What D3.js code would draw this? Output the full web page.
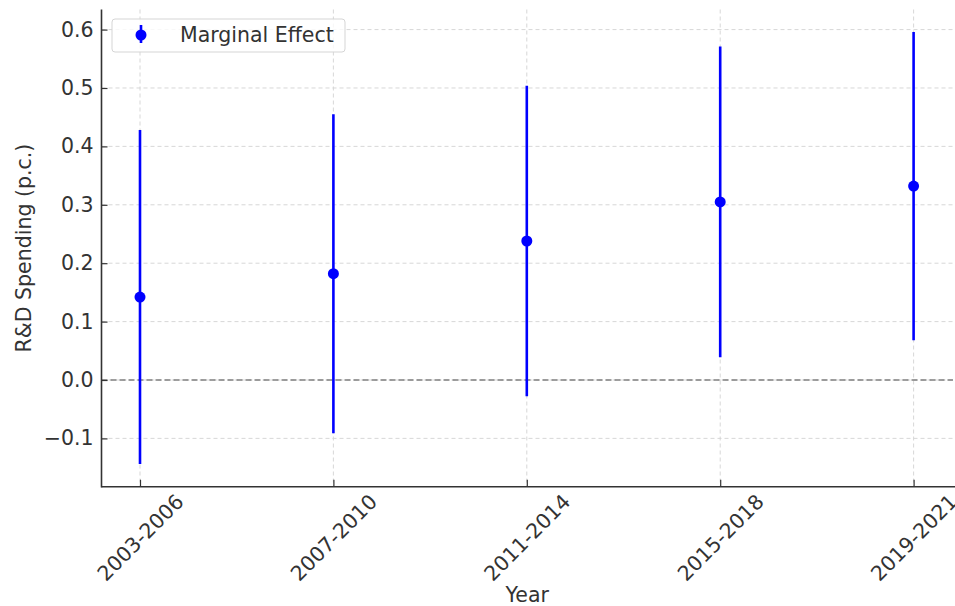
<!DOCTYPE html>
<html>
<head>
<meta charset="utf-8">
<script src="https://cdn.jsdelivr.net/npm/d3@7"></script>
<style>
  html, body { margin: 0; padding: 0; background: #fff; }
  svg { display: block; font-family: "DejaVu Sans", sans-serif; }
</style>
</head>
<body>
<svg id="chart" width="955" height="606"></svg>
<script>
// ---- data ----
const categories = ["2003-2006", "2007-2010", "2011-2014", "2015-2018", "2019-2021"];
const effects = [0.142, 0.182, 0.238, 0.305, 0.332];
const errors = [0.286, 0.273, 0.266, 0.266, 0.264];
const yTicks = [-0.1, 0.0, 0.1, 0.2, 0.3, 0.4, 0.5, 0.6];
const seriesName = "Marginal Effect";

(function () {
// ---- layout ----
const svg = d3.select("#chart");
const mLeft = 101.5, mRight = 953, mTop = 9.5, mBottom = 486.7;
const x = d3.scalePoint().domain(categories).range([140, 913.6]);
const y = d3.scaleLinear().domain([-0.1827, 0.6344]).range([mBottom, mTop]);
const textColor = "#333";
const fs = 20.5;

// grid
const grid = svg.append("g");
grid.selectAll("line.h").data(yTicks).join("line").attr("class", "h")
  .attr("x1", mLeft).attr("x2", mRight)
  .attr("y1", d => y(d)).attr("y2", d => y(d))
  .attr("stroke", "#d3d3d3").attr("stroke-width", 0.9)
  .attr("stroke-dasharray", "4,3");
grid.selectAll("line.v").data(categories).join("line").attr("class", "v")
  .attr("x1", d => x(d)).attr("x2", d => x(d))
  .attr("y1", mTop).attr("y2", mBottom)
  .attr("stroke", "#d3d3d3").attr("stroke-width", 0.9)
  .attr("stroke-dasharray", "4,3");

// zero line
svg.append("line")
  .attr("x1", mLeft).attr("x2", mRight)
  .attr("y1", y(0)).attr("y2", y(0))
  .attr("stroke", "#808080").attr("stroke-width", 1.5)
  .attr("stroke-dasharray", "6,3");

// axes
const yAxis = d3.axisLeft(y).tickValues(yTicks).tickFormat(d3.format(".1f"))
  .tickSizeInner(-6).tickSizeOuter(0).tickPadding(8);
const gy = svg.append("g").attr("transform", `translate(${mLeft},0)`).call(yAxis);
gy.select(".domain").remove();
gy.selectAll(".tick line").attr("stroke", textColor).attr("stroke-width", 1.2);
gy.selectAll(".tick text").attr("fill", textColor).style("font-size", fs + "px")
  .style("font-family", "DejaVu Sans");

const xAxis = d3.axisBottom(x).tickSizeInner(-7).tickSizeOuter(0);
const gx = svg.append("g").attr("transform", `translate(0,${mBottom})`).call(xAxis);
gx.select(".domain").remove();
gx.selectAll(".tick line").attr("stroke", textColor).attr("stroke-width", 1.2);
gx.selectAll(".tick text").attr("fill", textColor).style("font-size", fs + "px")
  .style("font-family", "DejaVu Sans")
  .attr("text-anchor", "middle")
  .attr("dy", null)
  .attr("y", 0)
  .attr("transform", "translate(0,51) rotate(-45)")
  .attr("dominant-baseline", "central");

// spines
svg.append("line").attr("x1", mLeft).attr("x2", mLeft).attr("y1", mTop).attr("y2", mBottom + 0.75)
  .attr("stroke", textColor).attr("stroke-width", 1.6);
svg.append("line").attr("x1", mLeft).attr("x2", mRight + 2).attr("y1", mBottom).attr("y2", mBottom)
  .attr("stroke", textColor).attr("stroke-width", 1.6);

// error bars + points
const data = categories.map((c, i) => ({c, v: effects[i], e: errors[i]}));
svg.append("g").selectAll("line").data(data).join("line")
  .attr("x1", d => x(d.c)).attr("x2", d => x(d.c))
  .attr("y1", d => y(d.v - d.e)).attr("y2", d => y(d.v + d.e))
  .attr("stroke", "#0000ff").attr("stroke-width", 2.6);
svg.append("g").selectAll("circle").data(data).join("circle")
  .attr("cx", d => x(d.c)).attr("cy", d => y(d.v)).attr("r", 5.5)
  .attr("fill", "#0000ff");

// axis labels
svg.append("text").attr("x", (mLeft + mRight) / 2).attr("y", 595)
  .attr("text-anchor", "middle").attr("dominant-baseline", "central")
  .attr("fill", textColor).style("font-size", fs + "px").text("Year");
svg.append("text").attr("transform", `translate(24,${(mTop + mBottom) / 2}) rotate(-90)`)
  .attr("text-anchor", "middle").attr("dominant-baseline", "central")
  .attr("fill", textColor).style("font-size", fs + "px").text("R&D Spending (p.c.)");

// legend
const lg = svg.append("g");
lg.append("rect").attr("x", 112).attr("y", 19).attr("width", 233).attr("height", 33)
  .attr("rx", 3).attr("fill", "#fff").attr("fill-opacity", 0.8)
  .attr("stroke", "#d5d5d5").attr("stroke-width", 1);
lg.append("line").attr("x1", 141).attr("x2", 141).attr("y1", 25).attr("y2", 43)
  .attr("stroke", "#0000ff").attr("stroke-width", 2.6);
lg.append("circle").attr("cx", 141).attr("cy", 35).attr("r", 5.5).attr("fill", "#0000ff");
lg.append("text").attr("x", 180).attr("y", 35).attr("dominant-baseline", "central")
  .attr("fill", textColor).style("font-size", fs + "px").text(seriesName);
})();
</script>
</body>
</html>
